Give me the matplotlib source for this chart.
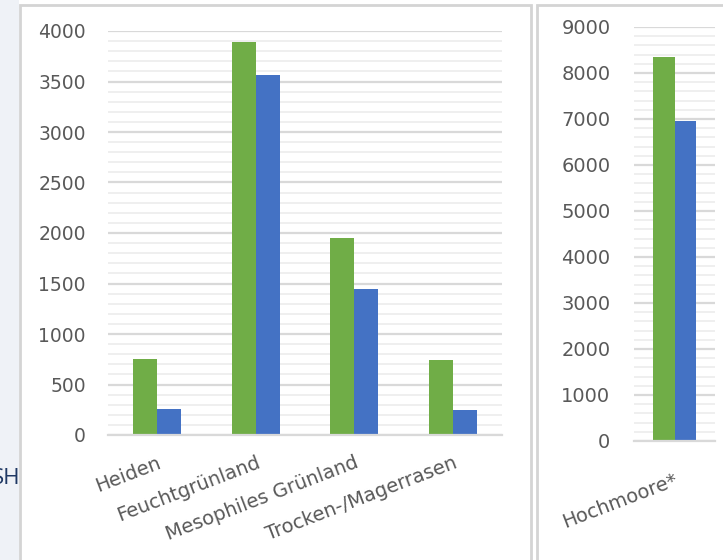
import matplotlib.pyplot as plt
from matplotlib.patches import Rectangle
from matplotlib.ticker import MultipleLocator

# left chart: areas per habitat type
categories = ["Heiden", "Feuchtgrünland", "Mesophiles Grünland", "Trocken-/Magerrasen"]
green_vals = [750, 3890, 1950, 740]
blue_vals = [260, 3560, 1450, 250]

# right chart
cat_right = ["Hochmoore*"]
green_right = [8350]
blue_right = [6950]

GREEN = "#70ad47"
BLUE = "#4472c4"
TXT = "#595959"

W, H = 723, 560
plt.rcParams["font.family"] = ["DejaVu Sans"]
fig = plt.figure(figsize=(W / 100, H / 100), dpi=100)
fig.patch.set_facecolor("white")


def px(x0, y0, x1, y1):
    # pixel box (top-left origin) -> figure fraction rect
    return [x0 / W, 1 - y1 / H, (x1 - x0) / W, (y1 - y0) / H]


# background strip, text behind the panel, panel frames
fig.patches.append(Rectangle((0, 0), 19 / W, 1, transform=fig.transFigure,
                             facecolor="#eff2f7", edgecolor="none", zorder=0))
fig.text(20 / W, 1 - 479 / H, "SH", ha="right", va="center", fontsize=16,
         color="#1f3864", zorder=1, family="Open Sans")
fig.patches.append(Rectangle((20 / W, -0.01), 511 / W, 1 - 5 / H + 0.01,
                             transform=fig.transFigure, facecolor="white",
                             edgecolor="#d4d4d4", lw=2, zorder=2))
fig.patches.append(Rectangle((537 / W, -0.01), 190 / W, 1 - 5 / H + 0.01,
                             transform=fig.transFigure, facecolor="white",
                             edgecolor="#d4d4d4", lw=2, zorder=2))


def style(ax, ymax, major, minor, ypad, xpad, ysize, xsize):
    ax.set_ylim(0, ymax)
    ax.yaxis.set_major_locator(MultipleLocator(major))
    ax.yaxis.set_minor_locator(MultipleLocator(minor))
    ax.grid(axis="y", which="major", color="#d9d9d9", lw=1.6)
    ax.grid(axis="y", which="minor", color="#eeeeee", lw=1.3)
    ax.set_axisbelow(True)
    for s in ["top", "right", "left"]:
        ax.spines[s].set_visible(False)
    ax.spines["bottom"].set_color("#d9d9d9")
    ax.spines["bottom"].set_linewidth(1.6)
    ax.tick_params(axis="y", which="both", length=0, labelsize=ysize,
                   labelcolor=TXT, pad=ypad)
    ax.tick_params(axis="x", length=0, labelsize=xsize, labelcolor=TXT, pad=xpad)
    ax.set_facecolor("none")


ax = fig.add_axes(px(108, 31, 502, 435), zorder=3)
x = range(len(categories))
bw = 0.245
ax.bar([i - bw / 2 for i in x], green_vals, width=bw, color=GREEN)
ax.bar([i + bw / 2 for i in x], blue_vals, width=bw, color=BLUE)
ax.set_xlim(-0.5, len(categories) - 0.5)
style(ax, 4000, 500, 100, 16, 13, 13.5, 14)
ax.set_xticks(list(x))
ax.set_xticklabels(categories, rotation=21, ha="right", rotation_mode="anchor")

ax2 = fig.add_axes(px(634, 27, 715, 441), zorder=3)
bw2 = 0.26
ax2.bar([-bw2 / 2], green_right, width=bw2, color=GREEN)
ax2.bar([bw2 / 2], blue_right, width=bw2, color=BLUE)
ax2.set_xlim(-0.5, 0.5)
style(ax2, 9000, 1000, 200, 17, 21, 14, 14)
ax2.set_xticks([-0.01])
ax2.set_xticklabels(cat_right, rotation=21, ha="right", rotation_mode="anchor")

fig.savefig("out.png", dpi=100)
